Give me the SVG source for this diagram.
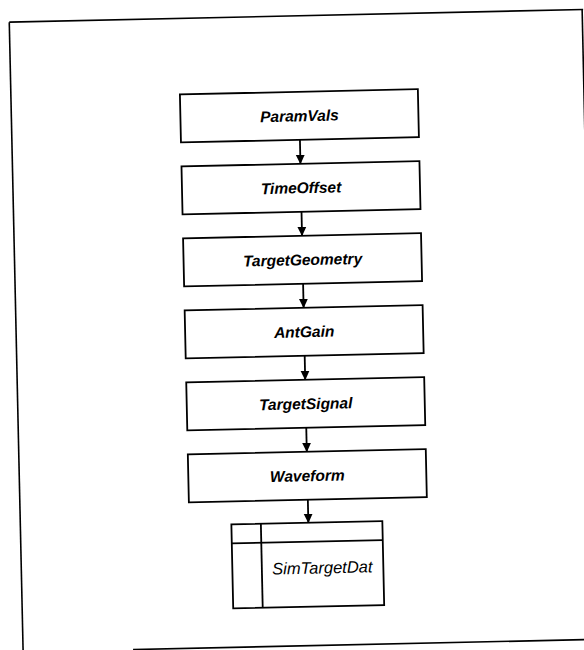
<svg xmlns="http://www.w3.org/2000/svg" width="584" height="650" viewBox="0 0 584 650">
  <defs>
    <style>
      .frame { fill: none; stroke: #000; stroke-width: 1.6; }
      .box { fill: #fff; stroke: #000; stroke-width: 1.8; }
      .lbl { font-family: "Liberation Sans", Arial, sans-serif; font-size: 15.5px; font-weight: bold; font-style: italic; text-anchor: middle; fill: #000; }
      .lbl2 { font-family: "Liberation Sans", Arial, sans-serif; font-size: 16.5px; font-style: italic; text-anchor: middle; fill: #000; }
      .conn { stroke: #000; stroke-width: 1.8; fill: none; }
    </style>
    <marker id="arr" markerWidth="10" markerHeight="10" refX="9" refY="5" orient="auto" markerUnits="userSpaceOnUse">
      <path d="M0,0.5 L9.5,5 L0,9.5 Z" fill="#000"/>
    </marker>
  </defs>
  <rect width="584" height="650" fill="#fff"/>
  <g transform="rotate(-1.26 292 325)">
    <g id="frame">
      <line class="frame" x1="16" y1="16" x2="590" y2="16"/>
      <line class="frame" x1="16" y1="16" x2="16" y2="665"/>
      <line class="frame" x1="589" y1="16" x2="589" y2="646"/>
      <line class="frame" x1="126" y1="646" x2="600" y2="646"/>
    </g>
    <g id="connectors">
      <line class="conn" x1="304" y1="140" x2="304" y2="164" marker-end="url(#arr)"/>
      <line class="conn" x1="304" y1="212" x2="304" y2="236" marker-end="url(#arr)"/>
      <line class="conn" x1="304" y1="284" x2="304" y2="308" marker-end="url(#arr)"/>
      <line class="conn" x1="304" y1="356" x2="304" y2="380" marker-end="url(#arr)"/>
      <line class="conn" x1="304" y1="428" x2="304" y2="452" marker-end="url(#arr)"/>
      <line class="conn" x1="304" y1="500" x2="304" y2="523" marker-end="url(#arr)"/>
    </g>
    <g id="ParamVals">
      <rect class="box" x="185" y="92" width="238" height="48"/>
      <text class="lbl" x="304" y="121.5">ParamVals</text>
    </g>
    <g id="TimeOffset">
      <rect class="box" x="185" y="164" width="238" height="48"/>
      <text class="lbl" x="304" y="193.5">TimeOffset</text>
    </g>
    <g id="TargetGeometry">
      <rect class="box" x="185" y="236" width="238" height="48"/>
      <text class="lbl" x="304" y="265.5">TargetGeometry</text>
    </g>
    <g id="AntGain">
      <rect class="box" x="185" y="308" width="238" height="48"/>
      <text class="lbl" x="304" y="337.5">AntGain</text>
    </g>
    <g id="TargetSignal">
      <rect class="box" x="185" y="380" width="238" height="48"/>
      <text class="lbl" x="304" y="409.5">TargetSignal</text>
    </g>
    <g id="Waveform">
      <rect class="box" x="185" y="452" width="238" height="48"/>
      <text class="lbl" x="304" y="481.5">Waveform</text>
    </g>
    <g id="SimTargetDat">
      <rect class="box" x="227" y="523" width="151" height="84"/>
      <line class="conn" x1="227" y1="542" x2="378" y2="542"/>
      <line class="conn" x1="256.5" y1="523" x2="256.5" y2="607"/>
      <text class="lbl2" x="317" y="574">SimTargetDat</text>
    </g>
  </g>
</svg>
